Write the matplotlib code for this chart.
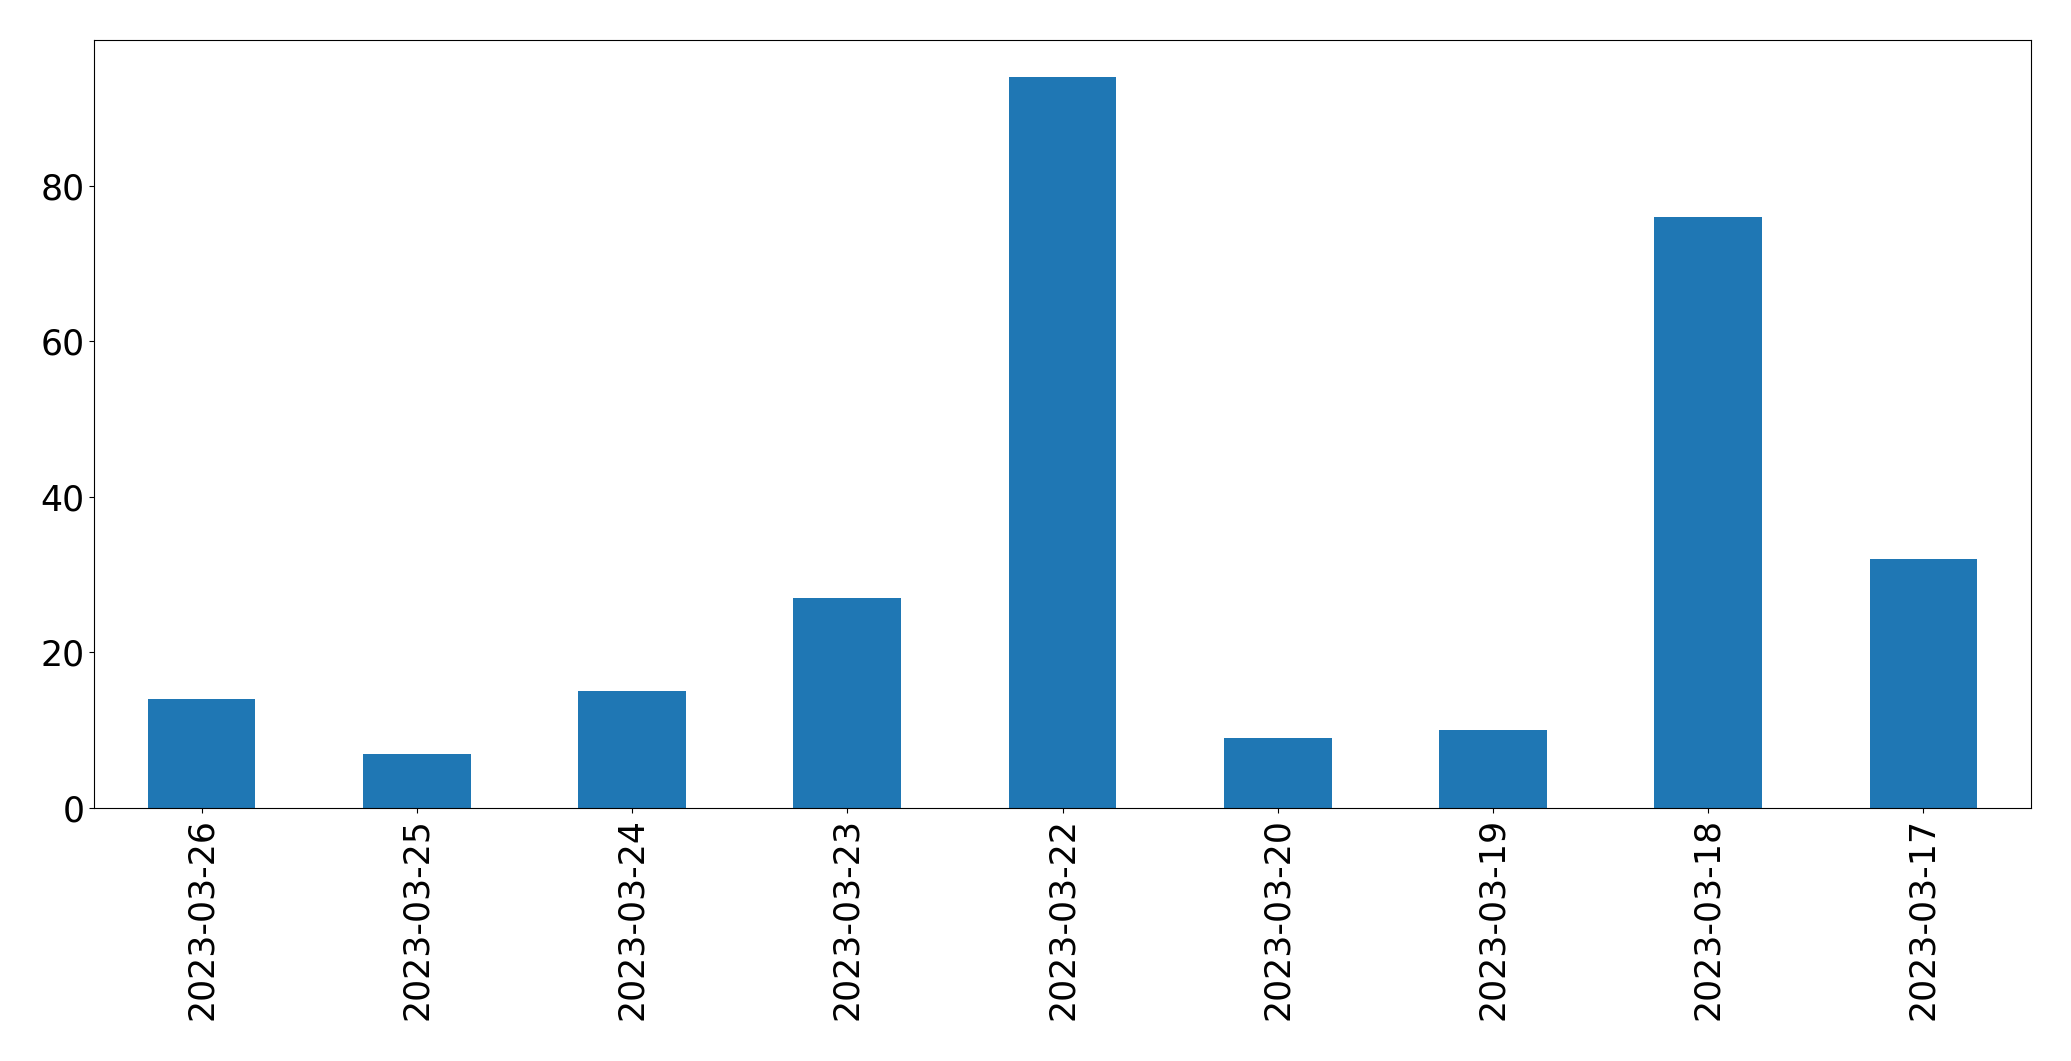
import matplotlib
matplotlib.use('Agg')
import matplotlib.pyplot as plt
import pandas as pd

# daily counts, newest first
dates = ['2023-03-26', '2023-03-25', '2023-03-24', '2023-03-23', '2023-03-22',
         '2023-03-20', '2023-03-19', '2023-03-18', '2023-03-17']
counts = [14, 7, 15, 27, 94, 9, 10, 76, 32]

s = pd.Series(counts, index=dates)

fig = plt.figure(figsize=(20.71, 10.61), dpi=100)
ax = fig.add_axes([94 / 2071, 1 - 808 / 1061, (2031 - 94) / 2071, (808 - 40) / 1061])
s.plot(kind='bar', ax=ax, color='#1f77b4', fontsize=25)
ax.set_xlabel('')
fig.savefig('out.png', dpi=100)
